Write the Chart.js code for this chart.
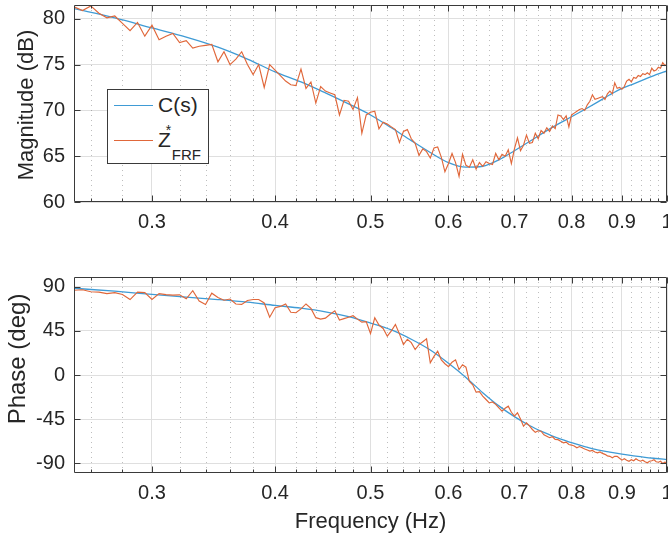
<!DOCTYPE html>
<html>
<head>
<meta charset="utf-8">
<title>Bode plot: C(s) vs Z*FRF</title>
<script src="https://cdn.jsdelivr.net/npm/chart.js@4.4.1/dist/chart.umd.min.js"></script>
<style>
  body { margin: 0; background: #fff; }
  #wrap { position: relative; width: 668px; height: 537px; overflow: hidden;
          font-family: "Liberation Sans", Arial, sans-serif; color: #262626; }
  canvas { position: absolute; left: 0; }
  #magChart { top: 0; }
  #phaseChart { top: 270px; }
  #legend { position: absolute; left: 107px; top: 89px; width: 100px; height: 73px;
            border: 1px solid #3a3a3a; background: #fff; }
  .row { position: absolute; left: 0; height: 24px; line-height: 24px; width: 100px; }
  .swatch { position: absolute; left: 6px; top: 12px; width: 39px; border-top: 1px solid; }
  .lbl { position: absolute; left: 50px; top: 0; font-size: 21px; white-space: nowrap; }
  .ss { position: relative; display: inline-block; width: 28px; height: 24px; vertical-align: top; }
  .ss sup { position: absolute; left: -5px; top: -5px; font-size: 14px; line-height: 14px; }
  .ss sub { position: absolute; left: 1px; top: 19px; font-size: 15px; line-height: 15px; }
</style>
</head>
<body>
<div id="wrap">
  <canvas id="magChart" width="668" height="270"></canvas>
  <canvas id="phaseChart" width="668" height="267"></canvas>
  <div id="legend"></div>
</div>
<script>
// measured FRF, sampled every 0.005 Hz
const freq = [
  0.25, 0.255, 0.26, 0.265, 0.27, 0.275, 0.28, 0.285, 0.29, 0.295,
  0.3, 0.305, 0.31, 0.315, 0.32, 0.325, 0.33, 0.335, 0.34, 0.345,
  0.35, 0.355, 0.36, 0.365, 0.37, 0.375, 0.38, 0.385, 0.39, 0.395,
  0.4, 0.405, 0.41, 0.415, 0.42, 0.425, 0.43, 0.435, 0.44, 0.445,
  0.45, 0.455, 0.46, 0.465, 0.47, 0.475, 0.48, 0.485, 0.49, 0.495,
  0.5, 0.505, 0.51, 0.515, 0.52, 0.525, 0.53, 0.535, 0.54, 0.545,
  0.55, 0.555, 0.56, 0.565, 0.57, 0.575, 0.58, 0.585, 0.59, 0.595,
  0.6, 0.605, 0.61, 0.615, 0.62, 0.625, 0.63, 0.635, 0.64, 0.645,
  0.65, 0.655, 0.66, 0.665, 0.67, 0.675, 0.68, 0.685, 0.69, 0.695,
  0.7, 0.705, 0.71, 0.715, 0.72, 0.725, 0.73, 0.735, 0.74, 0.745,
  0.75, 0.755, 0.76, 0.765, 0.77, 0.775, 0.78, 0.785, 0.79, 0.795,
  0.8, 0.805, 0.81, 0.815, 0.82, 0.825, 0.83, 0.835, 0.84, 0.845,
  0.85, 0.855, 0.86, 0.865, 0.87, 0.875, 0.88, 0.885, 0.89, 0.895,
  0.9, 0.905, 0.91, 0.915, 0.92, 0.925, 0.93, 0.935, 0.94, 0.945,
  0.95, 0.955, 0.96, 0.965, 0.97, 0.975, 0.98, 0.985, 0.99, 0.995,
  1.0
];
const magMeasured = [
  81.3, 80.9, 81.4, 80.6, 80.1, 80.3, 79.5, 78.7, 79.6, 78.1,
  79.3, 77.7, 78.1, 78.4, 77.4, 77.6, 76.8, 77.0, 77.1, 77.2,
  75.3, 76.4, 75.0, 75.6, 76.4, 75.0, 73.9, 75.0, 72.5, 75.0,
  74.4, 73.8, 73.2, 72.8, 72.7, 74.5, 72.4, 73.1, 70.8, 72.6,
  72.1, 71.9, 71.7, 69.5, 71.1, 71.0, 70.1, 71.4, 67.5, 69.5,
  69.8, 69.9, 68.0, 68.7, 68.5, 68.2, 67.9, 66.5, 67.7, 67.9,
  66.9, 66.4, 65.1, 65.8, 65.5, 64.8, 65.9, 66.0, 64.9, 63.3,
  64.2, 65.3, 64.3, 62.8, 65.2, 64.0, 63.8, 64.6, 63.6, 64.3,
  63.9, 64.4, 64.2, 64.1, 65.3, 64.6, 65.2, 65.0, 65.7, 64.2,
  65.8, 67.0, 65.6, 66.2, 67.3, 66.4, 66.5, 67.5, 66.9, 67.8,
  67.5, 68.1, 67.7, 68.3, 68.0, 69.5, 69.4, 69.0, 69.4, 68.2,
  69.5, 69.7, 69.9, 70.1, 70.2, 70.0, 70.6, 71.0, 71.7, 71.2,
  71.3, 71.4, 71.5, 71.2, 71.8, 72.1, 71.8, 73.0, 72.4, 72.5,
  72.3, 72.6, 73.2, 73.4, 73.1, 73.6, 73.5, 73.8, 73.7, 74.0,
  73.9, 74.1, 73.9, 74.6, 74.3, 74.4, 74.7, 74.6, 75.2, 74.9,
  75.0
];
const phaseMeasured = [
  86.5, 87.0, 85.0, 84.5, 83.0, 84.0, 82.2, 77.0, 84.5, 84.0,
  77.0, 83.0, 82.0, 81.5, 81.8, 77.8, 86.0, 75.5, 72.0, 83.5,
  79.0, 76.3, 77.5, 72.5, 72.0, 76.0, 77.0, 77.0, 73.5, 59.0,
  68.6, 70.0, 72.5, 64.0, 63.5, 67.5, 72.5, 68.0, 58.5, 57.0,
  58.0, 62.0, 65.5, 56.0, 57.5, 59.0, 60.5, 57.0, 53.9, 54.5,
  42.3, 58.4, 51.0, 47.5, 39.6, 45.0, 51.5, 42.0, 31.1, 36.5,
  33.0, 26.0, 31.0, 34.0, 36.9, 12.4, 19.0, 24.3, 15.5, 11.5,
  8.5, 13.0, 15.5, 5.5, 10.5, 8.0, -6.5, -10.0, -17.5, -17.0,
  -21.5, -25.0, -28.5, -27.5, -30.0, -33.5, -37.0, -34.0, -31.8, -38.0,
  -42.0, -38.6, -45.0, -52.3, -48.8, -52.0, -55.6, -58.5, -57.0, -57.4,
  -61.0, -62.4, -64.0, -63.0, -65.8, -66.0, -67.5, -69.2, -68.5, -70.9,
  -71.5, -72.5, -74.3, -73.0, -74.3, -75.5, -76.5, -77.7, -77.0, -78.5,
  -79.4, -78.5, -80.0, -81.0, -82.5, -83.0, -84.5, -83.0, -82.9, -85.0,
  -86.9, -85.5, -87.0, -88.0, -86.5, -87.5, -85.5, -87.0, -88.0, -87.0,
  -88.5, -89.6, -88.0, -87.5, -86.5, -88.5, -89.0, -88.0, -90.3, -89.0,
  -89.6
];

// fitted model C(s)
const fitFreq = [
  0.25, 0.275, 0.3, 0.325, 0.35, 0.375, 0.4, 0.425, 0.45, 0.475,
  0.5, 0.525, 0.55, 0.575, 0.6, 0.625, 0.65, 0.675, 0.7, 0.725,
  0.75, 0.775, 0.8, 0.825, 0.85, 0.875, 0.9, 0.925, 0.95, 0.975, 1.0
];
const magFit = [
  81.1, 80.1, 79.0, 78.0, 76.9, 75.6, 74.2, 73.1, 71.9, 70.7,
  69.5, 68.1, 66.7, 65.4, 64.3, 63.8, 63.9, 64.6, 65.6, 66.6,
  67.6, 68.5, 69.3, 70.1, 70.9, 71.7, 72.4, 72.9, 73.4, 73.9, 74.3
];
const phaseFit = [
  88.5, 85.5, 82.3, 79.5, 77.0, 74.3, 71.0, 68.2, 64.5, 59.5,
  53.0, 46.0, 36.5, 25.5, 12.0, -2.5, -18.0, -31.5, -42.5, -51.5,
  -58.5, -64.5, -69.0, -73.0, -76.5, -78.8, -80.8, -82.5, -84.0, -85.2, -86.3
];

const xTickValues = [0.3, 0.4, 0.5, 0.6, 0.7, 0.8, 0.9, 1];
const magTickValues = [60, 65, 70, 75, 80];
const phaseTickValues = [-90, -45, 0, 45, 90];
const seriesNames = ['C(s)', 'Z*FRF'];
const legendHtml = ['C(s)', 'Z<span class="ss"><sup>*</sup><sub>FRF</sub></span>'];

// minor log grid every 0.02 Hz
const minorX = [];
for (let k = 26; k < 100; k += 2) {
  if (k % 10 !== 0) minorX.push(k / 100);
}

const BLUE = '#3f9bd5';
const RED = '#e0673a';
const FONT = '"Liberation Sans", Arial, sans-serif';

Chart.defaults.font.family = FONT;
Chart.defaults.font.size = 20;
Chart.defaults.color = '#262626';

function pts(xs, ys) {
  return xs.map((x, i) => ({ x: x, y: ys[i] }));
}

// dotted minor grid, box, inward ticks and the y label
const axesFrame = {
  id: 'axesFrame',
  beforeDatasetsDraw(chart) {
    const { ctx, chartArea: a, scales: { x } } = chart;
    ctx.save();
    ctx.strokeStyle = 'rgba(40,40,40,0.3)';
    ctx.lineWidth = 1;
    ctx.setLineDash([1, 4]);
    ctx.beginPath();
    minorX.forEach(v => {
      const px = Math.round(x.getPixelForValue(v)) + 0.5;
      ctx.moveTo(px, a.top);
      ctx.lineTo(px, a.bottom);
    });
    ctx.stroke();
    ctx.restore();
  },
  afterDatasetsDraw(chart, args, opts) {
    const { ctx, chartArea: a, scales: { x, y } } = chart;
    const L = Math.round(a.left) + 0.5, R = Math.round(a.right) - 0.5;
    const T = Math.round(a.top) + 0.5, B = Math.round(a.bottom) - 0.5;
    ctx.save();
    ctx.strokeStyle = '#3a3a3a';
    ctx.lineWidth = 1;
    ctx.beginPath();
    ctx.rect(L, T, R - L, B - T);
    const xTick = (v, len) => {
      const px = Math.round(x.getPixelForValue(v)) + 0.5;
      ctx.moveTo(px, B); ctx.lineTo(px, B - len);
      ctx.moveTo(px, T); ctx.lineTo(px, T + len);
    };
    xTickValues.forEach(v => xTick(v, 6));
    minorX.forEach(v => xTick(v, 3));
    y.ticks.forEach(t => {
      const py = Math.round(y.getPixelForValue(t.value)) + 0.5;
      ctx.moveTo(L, py); ctx.lineTo(L + 6, py);
      ctx.moveTo(R, py); ctx.lineTo(R - 6, py);
    });
    ctx.stroke();

    ctx.translate(opts.titleX, opts.titleY);
    ctx.rotate(-Math.PI / 2);
    ctx.fillStyle = '#262626';
    ctx.font = opts.titleSize + 'px ' + FONT;
    ctx.textAlign = 'center';
    ctx.textBaseline = 'middle';
    ctx.fillText(opts.title, 0, 0);
    ctx.restore();
  }
};

function makeChart(canvasId, fitVals, measVals, yMin, yMax, yTicks, cfg) {
  return new Chart(document.getElementById(canvasId), {
    type: 'line',
    data: {
      datasets: [
        {
          label: seriesNames[0],
          data: pts(fitFreq, fitVals),
          borderColor: BLUE,
          borderWidth: 1.3,
          pointRadius: 0,
          cubicInterpolationMode: 'monotone',
          order: 1
        },
        {
          label: seriesNames[1],
          data: pts(freq, measVals),
          borderColor: RED,
          borderWidth: 1.15,
          pointRadius: 0,
          tension: 0,
          order: 0
        }
      ]
    },
    options: {
      responsive: false,
      animation: false,
      devicePixelRatio: 1,
      events: [],
      layout: { padding: { left: 0, right: 1, top: cfg.top, bottom: 0 } },
      plugins: {
        legend: { display: false },
        tooltip: { enabled: false },
        axesFrame: { title: cfg.yTitle, titleX: cfg.titleX, titleY: cfg.titleY, titleSize: cfg.titleSize }
      },
      scales: {
        x: {
          type: 'logarithmic',
          min: 0.25,
          max: 1,
          afterBuildTicks: s => { s.ticks = xTickValues.map(v => ({ value: v })); },
          afterFit: s => { s.height = cfg.xHeight; s.paddingLeft = 0; s.paddingRight = 0; },
          ticks: { autoSkip: false, maxRotation: 0, padding: 8, callback: v => String(v) },
          grid: { color: '#dfdfdf', drawTicks: false },
          border: { display: false },
          title: {
            display: !!cfg.xTitle,
            text: cfg.xTitle || '',
            font: { size: 22 },
            padding: { top: 0, bottom: 2 }
          }
        },
        y: {
          min: yMin,
          max: yMax,
          afterBuildTicks: s => { s.ticks = yTicks.map(v => ({ value: v })); },
          afterFit: s => { s.width = 74; s.paddingTop = 0; s.paddingBottom = 0; },
          ticks: { padding: 9 },
          grid: { color: '#dfdfdf', drawTicks: false },
          border: { display: false }
        }
      }
    },
    plugins: [axesFrame]
  });
}

const magChart = makeChart('magChart', magFit, magMeasured, 60, 81.5, magTickValues, {
  top: 5, xHeight: 68, yTitle: 'Magnitude (dB)', titleX: 27, titleY: 105, titleSize: 22
});
const phaseChart = makeChart('phaseChart', phaseFit, phaseMeasured, -100, 100, phaseTickValues, {
  top: 7, xHeight: 64, yTitle: 'Phase (deg)', titleX: 18, titleY: 89, titleSize: 24,
  xTitle: 'Frequency (Hz)'
});

// legend with sub/superscript label, colours taken from the datasets
const legend = document.getElementById('legend');
magChart.data.datasets.forEach((ds, i) => {
  const row = document.createElement('div');
  row.className = 'row';
  row.style.top = (i === 0 ? 3 : 38) + 'px';
  row.innerHTML = '<span class="swatch" style="border-color:' + ds.borderColor + '"></span>' +
    '<span class="lbl">' + legendHtml[i] + '</span>';
  legend.appendChild(row);
});
</script>
</body>
</html>
